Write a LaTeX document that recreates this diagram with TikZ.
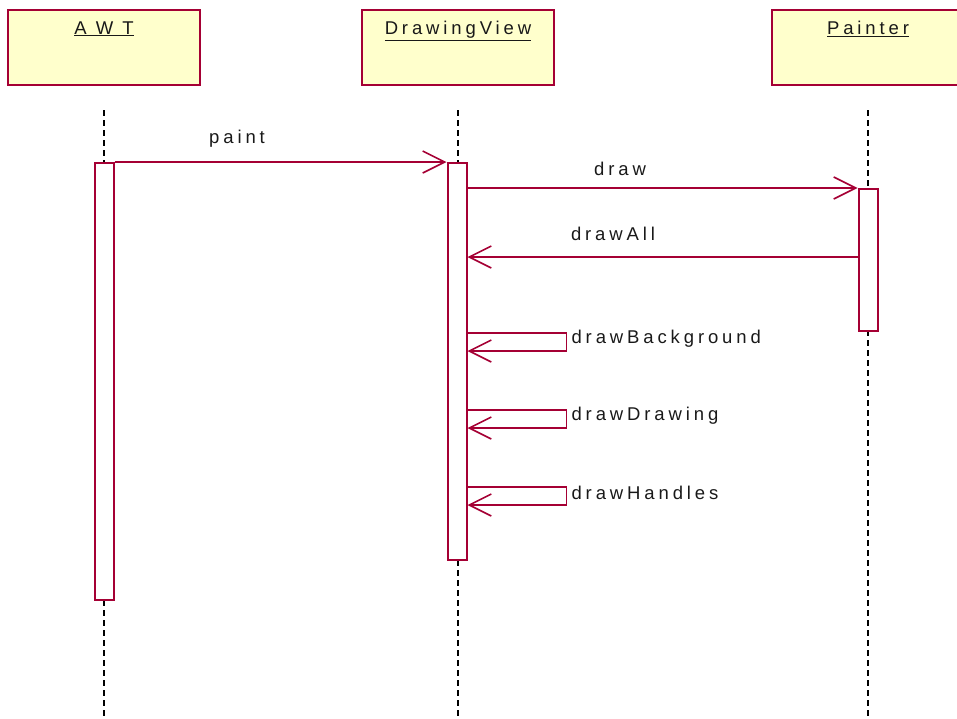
\documentclass[tikz,border=0pt]{standalone}
\usepackage{fontspec}
\setmainfont{Liberation Sans}[LetterSpace=21]
\usetikzlibrary{arrows.meta}
\definecolor{umlred}{RGB}{165,0,52}
\definecolor{umlyellow}{RGB}{255,255,204}

\begin{document}
\begin{tikzpicture}[x=1pt, y=-1pt,
  every node/.style={font=\fontsize{18.5}{21}\selectfont, text=black!90},
  obj/.style={draw=umlred, fill=umlyellow, line width=2pt, minimum width=192pt, minimum height=75pt, inner sep=0pt},
  act/.style={draw=umlred, fill=white, line width=2pt, minimum width=19pt, inner sep=0pt},
  msg/.style={draw=umlred, line width=1.6pt, -{Straight Barb[length=22pt,width=22pt,line width=1.6pt]}},
  life/.style={dash pattern=on 6pt off 4pt, line width=2pt}]
  \useasboundingbox (0,0) rectangle (957,718);

  % Objects
  \node[obj] (awt) at (104,47.5) {};
  \node[obj] (view) at (458,47.5) {};
  \node[obj] (painter) at (868,47.5) {};
  \node[below] at ([yshift=-9pt]awt.north) {\underline{A W T}};
  \node[below] at ([yshift=-9pt]view.north) {\underline{DrawingView}};
  \node[below] at ([yshift=-9pt]painter.north) {\underline{Painter}};

  % Lifelines
  \draw[life] (104,110) -- (104,718);
  \draw[life] (458,110) -- (458,718);
  \draw[life] (868,110) -- (868,718);

  % Activations
  \node[act, minimum height=437pt] (awtact) at (104,381.5) {};
  \node[act, minimum height=397pt] (viewact) at (457,361.5) {};
  \node[act, minimum height=142pt] (painteract) at (868,260) {};

  % Messages
  \draw[msg] (awtact.north east) -- (viewact.north west);
  \node at (237,139) {paint};
  \draw[msg] (viewact.east |- painteract.north) -- (painteract.north west);
  \node at (620,169) {draw};
  \coordinate (allstart) at (painteract.west |- 0,257);
  \draw[msg] (allstart) -- (viewact.east |- allstart);
  \node at (613,234) {drawAll};

  % Self calls
  \foreach \y/\name in {333/drawBackground, 410/drawDrawing, 487/drawHandles} {
    \draw[msg] (viewact.east |- 0,\y) -- ++(99,0) -- ++(0,18) -- (viewact.east |- 0,\y+18);
    \node[right] at (568,\y+6) {\name};
  }
\end{tikzpicture}
\end{document}
